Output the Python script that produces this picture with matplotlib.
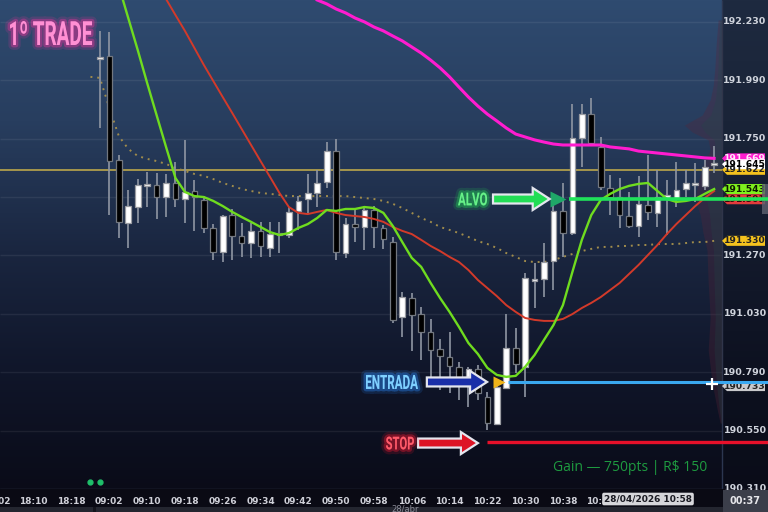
import numpy as np
import matplotlib
matplotlib.use("Agg")
import matplotlib.pyplot as plt
import matplotlib.patheffects as pe
from matplotlib.patches import Rectangle, Polygon, PathPatch
from matplotlib.textpath import TextPath
from matplotlib.font_manager import FontProperties
from matplotlib.transforms import Affine2D, blended_transform_factory

# 2-minute bars, index 0 = 09:02
first_bar = -1
opens = [192.078, 192.090, 191.662, 191.403, 191.469, 191.556, 191.560, 191.510, 191.568, 191.502,
         191.535, 191.498, 191.383, 191.284, 191.436, 191.350, 191.321, 191.371, 191.301, 191.362,
         191.354, 191.453, 191.502, 191.527, 191.572, 191.699, 191.280, 191.399, 191.387, 191.457,
         191.383, 191.325, 191.017, 191.095, 191.029, 190.955, 190.886, 190.853, 190.812, 190.758,
         190.803, 190.688, 190.577, 190.725, 190.890, 190.812, 191.165, 191.173, 191.247, 191.453,
         191.362, 191.753, 191.851, 191.716, 191.547, 191.510, 191.432, 191.391, 191.477, 191.445,
         191.506, 191.502, 191.543, 191.560, 191.556, 191.642]
highs = [192.193, 192.188, 191.683, 191.539, 191.584, 191.613, 191.609, 191.605, 191.654, 191.745,
         191.580, 191.514, 191.399, 191.436, 191.461, 191.403, 191.403, 191.408, 191.408, 191.408,
         191.469, 191.514, 191.605, 191.621, 191.736, 191.749, 191.424, 191.457, 191.473, 191.473,
         191.395, 191.346, 191.120, 191.116, 191.058, 191.009, 190.927, 190.955, 190.832, 190.812,
         190.820, 190.709, 190.758, 191.029, 190.972, 191.198, 191.239, 191.321, 191.486, 191.568,
         191.893, 191.893, 191.917, 191.757, 191.601, 191.588, 191.531, 191.597, 191.683, 191.621,
         191.580, 191.654, 191.621, 191.650, 191.662, 191.720]
lows = [191.794, 191.436, 191.342, 191.301, 191.403, 191.469, 191.420, 191.428, 191.469, 191.403,
        191.371, 191.362, 191.251, 191.243, 191.251, 191.264, 191.260, 191.264, 191.264, 191.280,
        191.342, 191.375, 191.445, 191.469, 191.547, 191.251, 191.260, 191.325, 191.292, 191.301,
        191.297, 190.992, 190.935, 190.877, 190.840, 190.771, 190.717, 190.705, 190.676, 190.647,
        190.676, 190.553, 190.573, 190.725, 190.787, 190.688, 191.054, 191.099, 191.128, 191.264,
        191.354, 191.634, 191.724, 191.539, 191.436, 191.383, 191.383, 191.346, 191.416, 191.387,
        191.354, 191.469, 191.510, 191.490, 191.539, 191.609]
closes = [192.086, 191.658, 191.408, 191.473, 191.560, 191.564, 191.510, 191.568, 191.502, 191.531,
          191.510, 191.383, 191.284, 191.432, 191.350, 191.321, 191.371, 191.309, 191.358, 191.354,
          191.449, 191.494, 191.527, 191.568, 191.699, 191.284, 191.399, 191.387, 191.457, 191.387,
          191.338, 191.005, 191.099, 191.025, 190.955, 190.881, 190.857, 190.816, 190.766, 190.803,
          190.705, 190.581, 190.729, 190.890, 190.824, 191.177, 191.173, 191.243, 191.453, 191.362,
          191.753, 191.851, 191.732, 191.551, 191.510, 191.436, 191.391, 191.482, 191.449, 191.510,
          191.519, 191.539, 191.568, 191.564, 191.634, 191.645]

fast_start = 0
fast_ma = [192.513, 192.378, 192.246, 192.115, 191.979, 191.847, 191.716, 191.588, 191.531, 191.514,
           191.510, 191.494, 191.473, 191.449, 191.428, 191.408, 191.387, 191.366, 191.354, 191.362,
           191.383, 191.399, 191.424, 191.457, 191.453, 191.461, 191.461, 191.469, 191.465, 191.445,
           191.391, 191.325, 191.260, 191.223, 191.157, 191.095, 191.038, 190.976, 190.910, 190.865,
           190.808, 190.779, 190.771, 190.775, 190.812, 190.861, 190.923, 190.984, 191.066, 191.202,
           191.334, 191.436, 191.498, 191.523, 191.543, 191.556, 191.564, 191.568, 191.535, 191.502,
           191.490, 191.494, 191.502, 191.523, 191.543]
slow_start = 5
slow_ma = [192.394, 192.324, 192.258, 192.193, 192.123, 192.053, 191.987, 191.921, 191.856, 191.790,
           191.724, 191.658, 191.593, 191.527, 191.469, 191.445, 191.440, 191.449, 191.457, 191.445,
           191.436, 191.432, 191.428, 191.420, 191.408, 191.387, 191.371, 191.358, 191.334, 191.309,
           191.288, 191.264, 191.243, 191.210, 191.169, 191.136, 191.103, 191.066, 191.038, 191.013,
           191.005, 191.001, 191.001, 191.009, 191.029, 191.054, 191.075, 191.099, 191.128, 191.157,
           191.194, 191.231, 191.272, 191.313, 191.358, 191.399, 191.436, 191.473, 191.506, 191.535]
vwap_start = -2
vwap = [192.004, 192.000, 191.876, 191.761, 191.708, 191.679, 191.667, 191.658, 191.646, 191.630,
        191.617, 191.605, 191.597, 191.584, 191.568, 191.556, 191.543, 191.535, 191.527, 191.523,
        191.519, 191.514, 191.514, 191.514, 191.514, 191.514, 191.514, 191.514, 191.510, 191.506,
        191.502, 191.494, 191.482, 191.465, 191.445, 191.424, 191.408, 191.387, 191.375, 191.362,
        191.346, 191.329, 191.317, 191.301, 191.280, 191.264, 191.247, 191.243, 191.243, 191.251,
        191.264, 191.276, 191.288, 191.297, 191.305, 191.305, 191.309, 191.309, 191.313, 191.313,
        191.317, 191.317, 191.317, 191.321, 191.325, 191.325, 191.330]
long_start = 22
long_ma = [192.320, 192.304, 192.283, 192.267, 192.246, 192.230, 192.209, 192.193, 192.172, 192.152,
           192.127, 192.102, 192.073, 192.041, 192.004, 191.962, 191.921, 191.884, 191.851, 191.823,
           191.794, 191.769, 191.757, 191.745, 191.736, 191.728, 191.724, 191.724, 191.724, 191.724,
           191.724, 191.716, 191.712, 191.708, 191.699, 191.695, 191.691, 191.687, 191.683, 191.679,
           191.675, 191.671, 191.669]

vp_price = [192.238, 192.135, 192.045, 191.971, 191.909, 191.847, 191.806, 191.777, 191.745, 191.704,
            191.634, 191.560, 191.498, 191.436, 191.362, 191.292, 191.157, 191.017, 190.881, 190.746,
            190.635, 190.581]
vp_vol = [0.10, 0.15, 0.18, 0.22, 0.30, 0.50, 0.95, 0.75, 0.35, 0.30,
          0.50, 0.62, 0.68, 0.55, 0.48, 0.38, 0.35, 0.30, 0.35, 0.25, 0.12, 0.05]

price_ticks = [192.230, 191.990, 191.750, 191.510, 191.270, 191.030, 190.790, 190.550, 190.310]
time_ticks = list(range(-12, 53, 4))
time_labels = ['18:02', '18:10', '18:18', '09:02', '09:10', '09:18', '09:26', '09:34', '09:42',
               '09:50', '09:58', '10:06', '10:14', '10:22', '10:30', '10:38', '10:46']

ref_level = 191.622
target = 191.502
entry = 190.750
stop = 190.505
entry_signal_bar = 41.2
target_signal_bar = 47.5
signal_dots_bars = [-2, -1]
signal_dots_price = 190.339
crosshair = (63.8, 190.742)

tags = [(191.669, '#ff1ccf', '#ffe8f8'), (191.622, '#f4c21e', '#222222'), (191.645, '#ffffff', '#000000'),
        (191.543, '#7ff01e', '#0e1a00'), (191.501, '#e23c3c', '#3a0808'), (191.330, '#f4c21e', '#222222'),
        (190.733, '#c9c9cc', '#222222')]

XMIN, XMAX = -11.57, 69.70
YMIN, YMAX = 190.310, 192.320
CHART_RIGHT = 64.84
PX = (YMAX - YMIN) / 489.0   # price per pixel
KX = 1 / 9.45                # bars per pixel

fig = plt.figure(figsize=(7.68, 5.12), dpi=100)

# background gradient
yy = np.arange(512)
stops_y = [0, 120, 250, 370, 489]
chart_c = np.array([[47, 75, 112], [40, 62, 95], [26, 38, 64], [16, 22, 42], [10, 11, 24]])
panel_c = np.array([[30, 42, 64], [26, 36, 56], [19, 26, 44], [13, 17, 32], [10, 12, 24]])
img = np.zeros((512, 768, 3))
for c in range(3):
    img[:, :722, c] = np.interp(yy, stops_y, chart_c[:, c])[:, None]
    img[:, 722:, c] = np.interp(yy, stops_y, panel_c[:, c])[:, None]
img[489:, :, :] = [10, 10, 20]
img[507:, :, :] = [36, 38, 48]
img[507:, 93:96, :] = [20, 20, 28]
bg = fig.add_axes([0, 0, 1, 1], zorder=-1)
bg.imshow(img / 255.0, aspect='auto', extent=[0, 768, 512, 0], interpolation='bilinear')
bg.axis('off')

ax = fig.add_axes([0, 23 / 512, 1, 489 / 512])
ax.patch.set_alpha(0)
ax.set_xlim(XMIN, XMAX)
ax.set_ylim(YMIN, YMAX)
for s in ax.spines.values():
    s.set_visible(False)
ax.set_xticks([])
ax.set_yticks([])

# grid + separators
ax.hlines(price_ticks, XMIN, CHART_RIGHT, color='#ffffff', alpha=0.07, lw=1, zorder=1)
ax.vlines(CHART_RIGHT, YMIN, YMAX, color='#2c3650', lw=1, zorder=1)
ax.axhline(YMIN, color='#24283a', lw=1, zorder=1)

# volume profile
vp_vol = np.array(vp_vol)
ax.fill_betweenx(vp_price, CHART_RIGHT - vp_vol * 4.2, CHART_RIGHT, color='#5a2436', alpha=0.3, lw=0, zorder=1.5)
ax.fill_betweenx(vp_price, CHART_RIGHT - vp_vol * 2.4, CHART_RIGHT, color='#1f4a48', alpha=0.25, lw=0, zorder=1.6)

# reference level and vwap
ax.hlines(ref_level, XMIN, CHART_RIGHT, color='#c9b04a', lw=1.1, zorder=2)
xv = np.arange(len(vwap)) + vwap_start
ax.plot(xv, vwap, color='#a08c4c', lw=1.4, ls=(0, (1, 2.5)), zorder=2.5)

# candles
for i in range(len(opens)):
    x = first_bar + i
    o, h, l, c = opens[i], highs[i], lows[i], closes[i]
    ax.vlines(x, l, h, color='#8f96a3', lw=1.2, zorder=3)
    bull = c >= o
    lo, hi = min(o, c), max(o, c)
    hgt = max(hi - lo, 0.006)
    ax.add_patch(Rectangle((x - 0.3, lo), 0.6, hgt,
                           fc='#ffffff' if bull else '#000000',
                           ec='#9a9ca2' if bull else '#72777f', lw=0.9, zorder=3.1))

# moving averages
ax.plot(np.arange(len(slow_ma)) + slow_start, slow_ma, color='#d33a2a', lw=1.4, zorder=4)
ax.plot(np.arange(len(fast_ma)) + fast_start, fast_ma, color='#6fdc1f', lw=1.7, zorder=4.1)
ax.plot(np.arange(len(long_ma)) + long_start, long_ma, color='#ff1ccf', lw=2.2, zorder=4.2)

# right price scale
tr_fy = blended_transform_factory(fig.transFigure, ax.transData)
for p in price_ticks:
    if abs(p - 191.510) < 1e-6:
        continue  # hidden behind the tags
    ax.text(745 / 768, p, f'{p:.3f}', transform=tr_fy, ha='center', va='center',
            fontsize=6.8, fontweight='bold', color='#cfd3dc', zorder=4.5, clip_on=False)

tr_ay = blended_transform_factory(ax.transAxes, ax.transData)
x0, xp, x1 = 722 / 768, 727 / 768, 765 / 768
hh = 5 * PX
for val, bgc, fgc in tags:
    poly = [(x0, val), (xp, val + hh), (x1, val + hh), (x1, val - hh), (xp, val - hh)]
    ax.add_patch(Polygon(poly, closed=True, transform=tr_ay, fc=bgc, ec='none', zorder=5, clip_on=False))
    ax.text(745 / 768, val, f'{val:.3f}', transform=tr_fy, ha='center', va='center',
            fontsize=6.6, fontweight='bold', color=fgc, zorder=5.1, clip_on=False)
ax.add_patch(Rectangle((762 / 768, target - 15 * PX), 6 / 768, 30 * PX, transform=tr_ay,
                       fc='#5d6170', ec='none', alpha=0.8, zorder=5.2, clip_on=False))

# trade levels
ax.hlines(target, target_signal_bar + 1.1, XMAX, color='#1fe35a', lw=2.6, zorder=6)
ax.hlines(entry, entry_signal_bar + 1.0, XMAX, color='#3aa8f0', lw=2.2, zorder=6)
ax.hlines(stop, entry_signal_bar - 1.25, XMAX, color='#e8102a', lw=2.4, zorder=6)
ax.plot(entry_signal_bar, entry, marker='>', ms=9, color='#f0b418', mec='none', zorder=6.5)
ax.plot(target_signal_bar, target, marker='>', ms=12, color='#1fa868', mec='none', zorder=6.5)
ax.plot(signal_dots_bars, [signal_dots_price] * len(signal_dots_bars), 'o', ms=3.5, color='#1fbf6a', zorder=6)
ax.plot(*crosshair, marker='+', ms=8, mew=1.6, color='#ffffff', zorder=6.6)


def block_arrow(xs, xe, yc, fc):
    xh = xe - 17 * KX
    sh, hd = 4.5 * PX, 11 * PX
    pts = [(xs, yc - sh), (xh, yc - sh), (xh, yc - hd), (xe, yc), (xh, yc + hd), (xh, yc + sh), (xs, yc + sh)]
    ax.add_patch(Polygon(pts, closed=True, fc=fc, ec='#e4e6ee', lw=1.6, joinstyle='miter', zorder=7))


def glow_text(s, xs, xe, yc, h_px, color, glow):
    tp = TextPath((0, 0), s, size=50, prop=FontProperties(family='Roboto', weight='bold'))
    bb = tp.get_extents()
    h = h_px * PX
    t = Affine2D().translate(-bb.x0, -bb.y0).scale((xe - xs) / bb.width, h / bb.height).translate(xs, yc - h / 2)
    patch = PathPatch(t.transform_path(tp), fc=color, ec='none', zorder=8, clip_on=False)
    patch.set_path_effects([pe.Stroke(linewidth=7, foreground=glow, alpha=0.15, joinstyle='round'),
                            pe.Stroke(linewidth=3.5, foreground=glow, alpha=0.35, joinstyle='round'),
                            pe.Normal()])
    ax.add_patch(patch)


block_arrow(40.6, 46.6, target, '#22dd55')
block_arrow(33.6, 39.97, entry, '#1a2fa8')
block_arrow(32.67, 39.0, stop - 1.5 * PX, '#dd1425')
glow_text('ALVO', 36.9, 39.97, target, 13, '#66f088', '#22dd55')
glow_text('ENTRADA', 27.16, 32.66, entry, 14, '#7fd0ff', '#2a8cff')
glow_text('STOP', 29.28, 32.24, stop - 1.5 * PX, 13, '#ff5a6a', '#ff1a33')
glow_text('1º TRADE', -10.51, -1.83, YMAX - 33 * PX, 24, '#ff90d4', '#ff2fa0')

ax.text(46.9, YMAX - 467.5 * PX, 'Gain — 750pts | R\\$ 150', fontsize=10, family='Open Sans',
        color='#1e9a40', ha='left', va='center', zorder=8)

# time axis
tr_xf = blended_transform_factory(ax.transData, fig.transFigure)
for k, lab in zip(time_ticks, time_labels):
    ax.text(k, 1 - 501 / 512, lab, transform=tr_xf, ha='center', va='center', fontsize=6.5,
            fontweight='bold', color='#cfd0d8', clip_on=False)
fig.text(405 / 768, 1 - 509 / 512, '28/abr', ha='center', va='center', fontsize=6, color='#8a8a96')
fig.text(648 / 768, 1 - 499 / 512, '28/04/2026 10:58', ha='center', va='center', fontsize=6.5,
         fontweight='bold', color='#1a1a22',
         bbox=dict(boxstyle='round,pad=0.2', fc='#d6d6da', ec='none'))
fig.patches.append(Rectangle((723 / 768, 0), 45 / 768, 22 / 512, transform=fig.transFigure,
                             fc='#3b3e4a', ec='none', zorder=5))
fig.text(745 / 768, 1 - 501 / 512, '00:37', ha='center', va='center', fontsize=7,
         fontweight='bold', color='#e6e6ea', zorder=6)

fig.savefig('out.png', dpi=100)
